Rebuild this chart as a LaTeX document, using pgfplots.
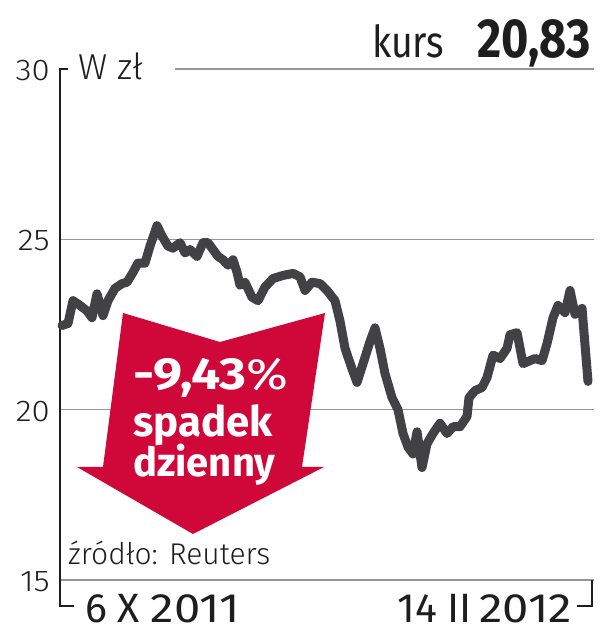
\documentclass[border=0pt]{standalone}
\usepackage{pgfplots}
\usepackage{pgfplotstable}
\pgfplotsset{compat=1.18}
\usepackage{fontspec}
\setmainfont{Fira Sans}
\newfontfamily\cond{Fira Sans}[FakeStretch=0.85]
\newfontfamily\wide{Fira Sans}[FakeStretch=1.15]
\newfontfamily\light{Fira Sans Light}[FakeStretch=1.1]
\newfontfamily\lightn{Fira Sans Light}
\definecolor{linegray}{RGB}{66,66,68}
\definecolor{gridgray}{RGB}{150,150,150}
\definecolor{arrowred}{RGB}{208,8,58}
\definecolor{txt}{RGB}{30,30,30}

\pgfplotstableread{
x y
0 22.47
1.03 22.53
1.88 23.2
3.08 23.06
4.28 22.9
5.13 22.7
5.99 23.4
7.02 22.76
7.87 23.2
9.07 23.56
10.27 23.7
11.12 23.74
12.15 24.03
13.0 24.3
14.2 24.3
15.06 24.8
16.26 25.4
17.11 25.1
18.14 24.8
18.99 24.74
20.19 24.9
21.05 24.6
21.9 24.7
23.1 24.5
24.13 24.9
24.98 24.9
25.84 24.7
26.69 24.5
27.55 24.4
28.41 24.24
29.26 24.4
29.95 24.03
30.46 23.65
31.31 23.74
32.51 23.3
33.54 23.2
34.74 23.6
36.11 23.85
37.82 23.94
39.53 24.0
40.73 23.9
41.58 23.5
42.78 23.74
44.15 23.7
45.35 23.5
46.71 23.2
47.57 22.6
48.43 21.8
49.62 21.2
50.48 20.8
51.51 21.35
52.70 22.0
53.56 22.4
54.41 21.8
55.27 21.06
56.47 20.35
57.49 20.0
58.35 19.3
59.21 18.9
60.06 18.7
60.75 19.35
61.6 18.3
62.46 19.0
63.48 19.3
64.68 19.6
65.88 19.3
66.91 19.5
68.1 19.5
69.3 19.8
69.64 20.35
70.67 20.56
71.87 20.65
72.72 20.94
73.75 21.6
74.95 21.5
76.15 21.8
76.66 22.2
77.86 22.26
78.88 21.35
80.08 21.44
80.94 21.5
82.14 21.44
82.99 21.94
84.02 22.7
84.87 23.06
86.07 22.85
86.93 23.5
87.78 22.8
88.98 22.97
90 20.83
}\kurs

\begin{document}
\begin{tikzpicture}
\path[use as bounding box] (0pt,0pt) rectangle (605pt,640pt);
% base axis: grid and tick labels
\begin{axis}[at={(60pt,60pt)}, anchor=south west, scale only axis,
  width=534pt, height=511pt, xmin=-0.34, xmax=91.03, ymin=15, ymax=30,
  axis line style={draw=none}, major tick length=0pt,
  xtick=\empty, ytick={15,20,25,30},
  /pgf/number format/assume math mode=true,
  yticklabel style={font=\fontsize{30}{30}\selectfont\light, text=txt, inner sep=0pt, anchor=east, xshift=-10pt, yshift=-1.5pt},
  clip=false]
\draw[gridgray, line width=1.2pt] (axis cs:-0.34,15) -- (axis cs:91.03,15);
\draw[gridgray, line width=1.2pt] (axis cs:-0.34,20) -- (axis cs:91.03,20);
\draw[gridgray, line width=1.2pt] (axis cs:-0.34,25) -- (axis cs:91.03,25);
\draw[gridgray, line width=1.2pt] (axis cs:19.34,30) -- (axis cs:91.03,30);
\end{axis}
% axis line and date brackets
\draw[txt, line width=1.3pt] (68pt,571pt) -- (60pt,571pt) -- (60pt,34pt) -- (74pt,34pt);
\draw[txt, line width=1.3pt] (592pt,60pt) -- (592pt,34pt) -- (577pt,34pt);
% red arrow
\fill[arrowred] (123pt,327pt) -- (220pt,298pt) -- (325pt,327pt) -- (302pt,173pt) -- (324pt,173pt) -- (193pt,106pt) -- (77pt,173pt) -- (103pt,173pt) -- cycle;
% line
\begin{axis}[at={(60pt,60pt)}, anchor=south west, scale only axis,
  width=534pt, height=511pt, xmin=-0.34, xmax=91.03, ymin=15, ymax=30,
  hide axis, clip=false]
\addplot[linegray, line width=9pt, line join=round, line cap=round] table[x=x,y=y] {\kurs};
\end{axis}
% texts
\node[anchor=base west, inner sep=0pt, text=white] at (133pt,250pt) {\fontsize{45}{45}\selectfont\wide\bfseries -9,43\mdseries\fontsize{44}{44}\selectfont\%};
\node[anchor=base west, inner sep=0pt, text=white] at (133pt,203pt) {\fontsize{42}{42}\selectfont\bfseries spadek};
\node[anchor=base west, inner sep=0pt, text=white] at (133pt,163pt) {\fontsize{40}{40}\selectfont\bfseries dzienny};
\node[anchor=base west, inner sep=0pt, text=txt] at (68pt,75pt) {\fontsize{30}{30}\selectfont\lightn źródło: Reuters};
\node[anchor=base west, inner sep=0pt, text=txt] at (85pt,17pt) {\fontsize{41}{41}\selectfont 6 X \wide 2011};
\node[anchor=base east, inner sep=0pt, text=txt] at (572pt,17pt) {\fontsize{41}{41}\selectfont 14\hspace{0.24em}II\hspace{0.2em}\wide 2012};
\node[anchor=base west, inner sep=0pt, text=txt] at (78pt,560pt) {\fontsize{36}{36}\selectfont\lightn W zł};
\node[anchor=base west, inner sep=0pt, text=txt] at (372pt,582pt) {\fontsize{44}{44}\selectfont\cond kurs};
\node[anchor=base east, inner sep=0pt, text=txt] at (591pt,582pt) {\fontsize{55}{55}\selectfont\cond\bfseries 20,83};
\end{tikzpicture}
\end{document}
